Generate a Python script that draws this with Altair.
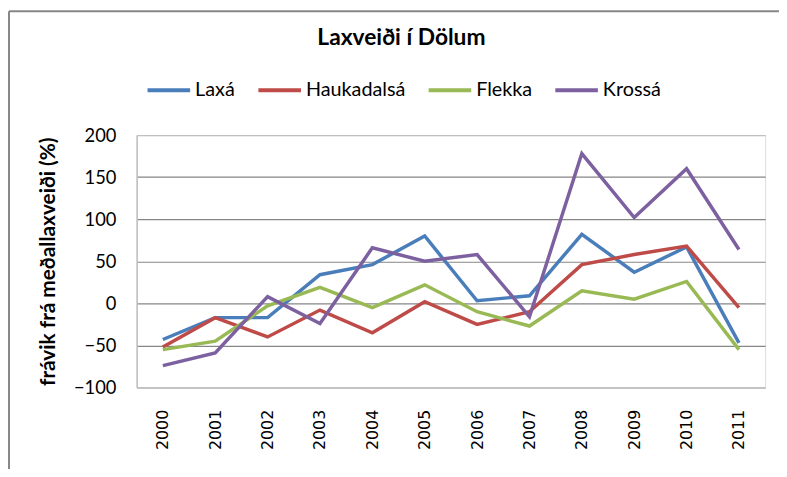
import altair as alt
import pandas as pd

years = [str(y) for y in range(2000, 2012)]
series_names = ["Laxá", "Haukadalsá", "Flekka", "Krossá"]
laxa = [-43, -17, -17, 34, 46, 80, 3, 9, 82, 37, 67, -47]
haukadalsa = [-52, -17, -40, -8, -35, 2, -25, -10, 46, 58, 68, -5]
flekka = [-55, -45, -3, 19, -5, 22, -10, -27, 15, 5, 26, -55]
krossa = [-74, -59, 8, -24, 66, 50, 58, -16, 178, 102, 160, 64]
colors = ["#4A7EBB", "#BE4B48", "#98B954", "#7D60A0"]
y_ticks = [-100, -50, 0, 50, 100, 150, 200]

rows = []
for name, vals in zip(series_names, [laxa, haukadalsa, flekka, krossa]):
    for yr, v in zip(years, vals):
        rows.append({"ár": yr, "á": name, "gildi": v})
df = pd.DataFrame(rows)

FONT = "Lato"

lines = alt.Chart(df).mark_line(strokeWidth=3.5).encode(
    x=alt.X("ár:N", sort=years, title=None,
            scale=alt.Scale(paddingInner=0, paddingOuter=0),
            axis=alt.Axis(labelAngle=-90, ticks=False, labelPadding=22,
                          labelFont="DejaVu Sans", labelFontSize=16,
                          labelColor="#000", domainColor="#BFBFBF",
                          domainWidth=1.5, grid=False, labelBaseline="middle")),
    y=alt.Y("gildi:Q", title="frávik frá meðallaxveiði (%)",
            scale=alt.Scale(domain=[-100, 200], nice=False, zero=False),
            axis=alt.Axis(values=y_ticks, ticks=False, labelPadding=21,
                          labelFont=FONT, labelFontSize=18.5, labelColor="#000",
                          titleFont=FONT, titleFontSize=21, titleFontWeight="bold",
                          titleColor="#000", titlePadding=15,
                          domainColor="#BFBFBF", domainWidth=1.5,
                          gridColor={"condition": {"test": "datum.value === 200 || datum.value === -100",
                                                   "value": "#BFBFBF"},
                                     "value": "#868686"},
                          gridWidth=1.2)),
    color=alt.Color("á:N", sort=series_names,
                    scale=alt.Scale(domain=series_names, range=colors),
                    legend=alt.Legend(title=None, orient="none", legendX=9, legendY=-69,
                                      direction="horizontal", symbolType="stroke",
                                      symbolSize=1849, symbolStrokeWidth=4,
                                      labelFont=FONT, labelFontSize=20, labelColor="#000",
                                      labelOffset=3, columnPadding=15, padding=0)),
)

frame_df = pd.DataFrame({"k": [0]})
frame_left = alt.Chart(frame_df).mark_rule(color="#878787", strokeWidth=2).encode(
    x=alt.value(-129), y=alt.value(-125), y2=alt.value(340))
frame_top = alt.Chart(frame_df).mark_rule(color="#878787", strokeWidth=2).encode(
    x=alt.value(-129), x2=alt.value(660), y=alt.value(-125))

chart = alt.layer(frame_left, frame_top, lines).properties(
    width=635, height=255,
    autosize=alt.AutoSizeParams(type="none"),
    padding={"left": 130, "top": 126, "right": 14, "bottom": 80},
    title=alt.TitleParams("Laxveiði í Dölum", font=FONT, fontSize=23, fontWeight="bold",
                          color="#000", anchor="middle", frame="group", dx=-50, offset=-40),
).configure_view(stroke=None).configure(background="white")

chart.save("out.html", embed_options={"renderer": "svg", "actions": False})
